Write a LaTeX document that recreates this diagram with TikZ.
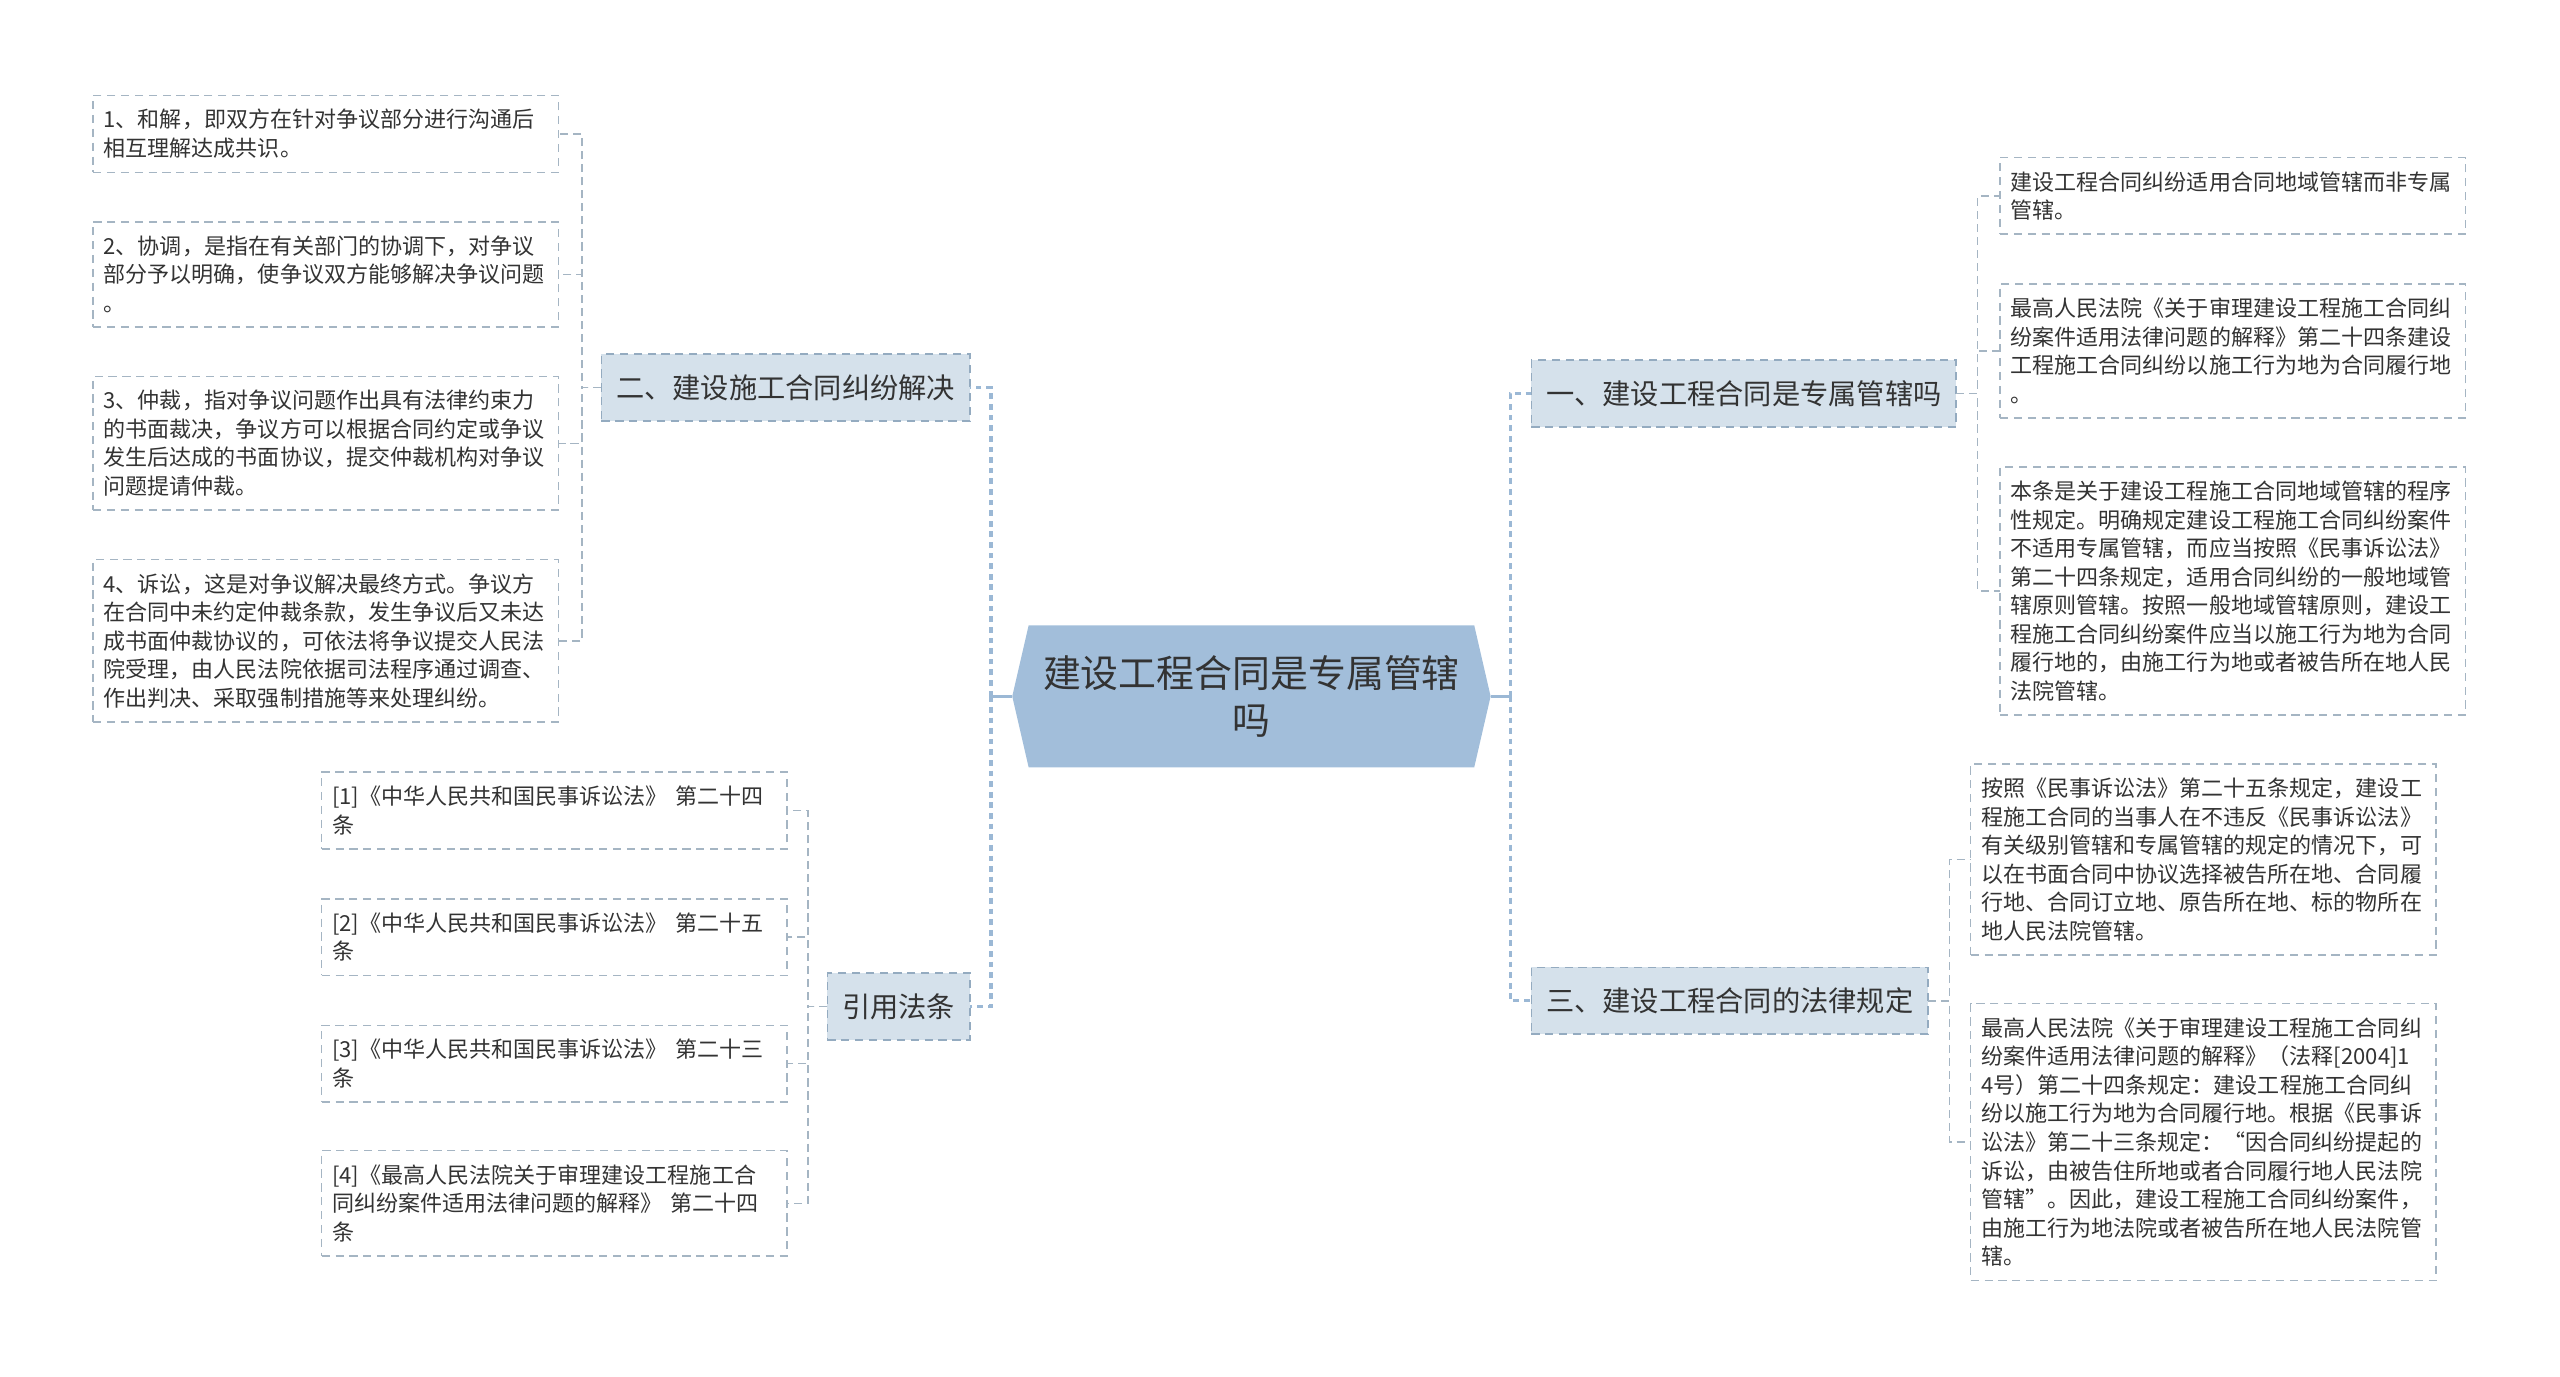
\documentclass[tikz,border=0pt]{standalone}
\usepackage{fontspec}
\setmainfont{Noto Sans CJK SC}
\usetikzlibrary{shapes.symbols}
\definecolor{ctrblue}{HTML}{A2BEDA}
\definecolor{trunkblue}{HTML}{9BB8D5}
\definecolor{topfill}{HTML}{D5E1EB}
\definecolor{topline}{HTML}{94ABC0}
\definecolor{leafline}{HTML}{A5B5C3}
\definecolor{inkgray}{HTML}{333333}
\newcommand{\leaffont}{\fontsize{13.5}{17.5}\selectfont}

\begin{document}
\begin{tikzpicture}[x=1pt, y=-1pt,
  every node/.style={text=inkgray, outer sep=0pt},
  centre/.style={signal, signal to=west and east, signal pointer angle=154,
                 fill=ctrblue, align=center, inner sep=0pt,
                 font=\fontsize{23.2}{29}\selectfont,
                 minimum width=293pt, minimum height=87pt},
  topic/.style={fill=topfill, draw=topline, line width=1pt,
                dash pattern=on 5pt off 3.5pt, inner xsep=9pt,
                font=\fontsize{17.3}{20}\selectfont, minimum height=41pt},
  leaf/.style={draw=leafline, line width=1pt, dash pattern=on 5pt off 3.5pt,
               text width=272pt, align=left, font=\leaffont,
               inner xsep=6.5pt, inner ysep=8.5pt},
  trunk/.style={draw=trunkblue, line width=2pt, dash pattern=on 3.5pt off 3pt},
  twig/.style={draw=leafline, line width=0.9pt, dash pattern=on 5pt off 3pt}]
\useasboundingbox (0,0) rectangle (1568,843);

\node[centre] (ctr) at (766.5,426.5) {建设工程合同是专属管辖\\吗};

\node[topic, anchor=east] (solve) at (594,237.5) {二、建设施工合同纠纷解决};
\node[topic, anchor=east] (cite)  at (594,616.5) {引用法条};
\node[topic, anchor=west] (excl)  at (938,241)   {一、建设工程合同是专属管辖吗};
\node[topic, anchor=west] (rules) at (938,613)   {三、建设工程合同的法律规定};

\node[leaf, anchor=west] (s1) at (57,82)    {1、和解，即双方在针对争议部分进行沟通后\\相互理解达成共识。};
\node[leaf, anchor=west] (s2) at (57,168)   {2、协调，是指在有关部门的协调下，对争议\\部分予以明确，使争议双方能够解决争议问题\\。};
\node[leaf, anchor=west] (s3) at (57,271.5) {3、仲裁，指对争议问题作出具有法律约束力\\的书面裁决，争议方可以根据合同约定或争议\\发生后达成的书面协议，提交仲裁机构对争议\\问题提请仲裁。};
\node[leaf, anchor=west] (s4) at (57,392.5) {4、诉讼，这是对争议解决最终方式。争议方\\在合同中未约定仲裁条款，发生争议后又未达\\成书面仲裁协议的，可依法将争议提交人民法\\院受理，由人民法院依据司法程序通过调查、\\作出判决、采取强制措施等来处理纠纷。};

\node[leaf, anchor=west] (c1) at (197,496.5) {[1]《中华人民共和国民事诉讼法》 第二十四\\条};
\node[leaf, anchor=west] (c2) at (197,574)   {[2]《中华人民共和国民事诉讼法》 第二十五\\条};
\node[leaf, anchor=west] (c3) at (197,651.5) {[3]《中华人民共和国民事诉讼法》 第二十三\\条};
\node[leaf, anchor=west] (c4) at (197,737)   {[4]《最高人民法院关于审理建设工程施工合\\同纠纷案件适用法律问题的解释》 第二十四\\条};

\node[leaf, anchor=west] (e1) at (1225,120) {建设工程合同纠纷适用合同地域管辖而非专属\\管辖。};
\node[leaf, anchor=west] (e2) at (1225,215) {最高人民法院《关于审理建设工程施工合同纠\\纷案件适用法律问题的解释》第二十四条建设\\工程施工合同纠纷以施工行为地为合同履行地\\。};
\node[leaf, anchor=west] (e3) at (1225,362) {本条是关于建设工程施工合同地域管辖的程序\\性规定。明确规定建设工程施工合同纠纷案件\\不适用专属管辖，而应当按照《民事诉讼法》\\第二十四条规定，适用合同纠纷的一般地域管\\辖原则管辖。按照一般地域管辖原则，建设工\\程施工合同纠纷案件应当以施工行为地为合同\\履行地的，由施工行为地或者被告所在地人民\\法院管辖。};

\node[leaf, anchor=west] (r1) at (1207,526.5) {按照《民事诉讼法》第二十五条规定，建设工\\程施工合同的当事人在不违反《民事诉讼法》\\有关级别管辖和专属管辖的规定的情况下，可\\以在书面合同中协议选择被告所在地、合同履\\行地、合同订立地、原告所在地、标的物所在\\地人民法院管辖。};
\node[leaf, anchor=west] (r2) at (1207,699.5) {最高人民法院《关于审理建设工程施工合同纠\\纷案件适用法律问题的解释》（法释[2004]1\\4号）第二十四条规定：建设工程施工合同纠\\纷以施工行为地为合同履行地。根据《民事诉\\讼法》第二十三条规定：“因合同纠纷提起的\\诉讼，由被告住所地或者合同履行地人民法院\\管辖”。因此，建设工程施工合同纠纷案件，\\由施工行为地法院或者被告所在地人民法院管\\辖。};

% trunk
\draw[trunkblue, line width=2pt] (ctr.west) -- ++(-13,0) coordinate (lj);
\draw[trunkblue, line width=2pt] (ctr.east) -- ++(12,0) coordinate (rj);
\foreach \t in {solve, cite} \draw[trunk] (lj) |- (\t.east);
\foreach \t in {excl, rules} \draw[trunk] (rj) |- (\t.west);

\foreach \l in {s1, s2, s3, s4} \draw[twig] (solve.west) -- ++(-12,0) |- (\l.east);
\foreach \l in {c1, c2, c3, c4} \draw[twig] (cite.west) -- ++(-12,0) |- (\l.east);
\foreach \l in {e1, e2, e3} \draw[twig] (excl.east) -- ++(13,0) |- (\l.west);
\foreach \l in {r1, r2} \draw[twig] (rules.east) -- ++(13,0) |- (\l.west);
\end{tikzpicture}
\end{document}
